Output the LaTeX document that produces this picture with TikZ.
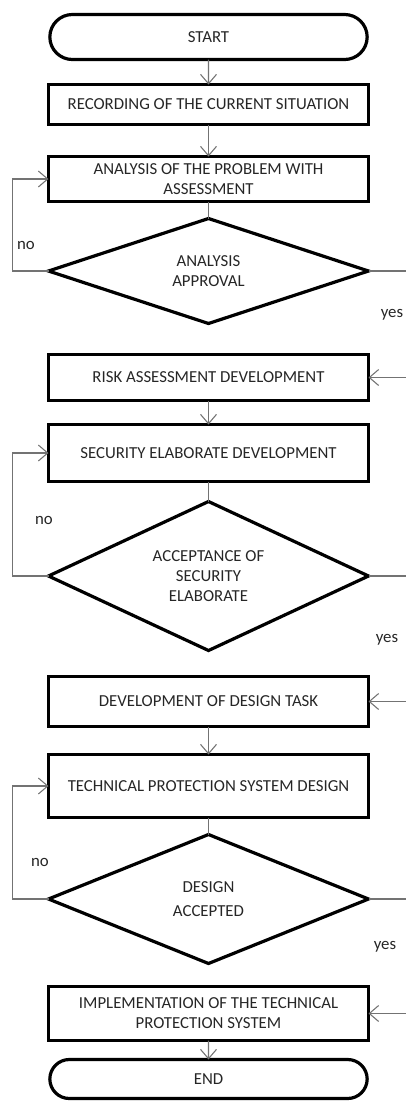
\documentclass[tikz,border=0pt]{standalone}
\usepackage{fontspec}
\setmainfont{Carlito}
\usepackage{tikz}
\usetikzlibrary{shapes.geometric,shapes.misc,arrows.meta}

\begin{document}
\begin{tikzpicture}[x=0.75pt,y=-0.75pt,
                font=\fontsize{12.6}{15}\selectfont,
                stepbox/.style={draw, line width=2.4pt, minimum width=240pt, inner sep=1pt, outer sep=0pt, align=center, text=black!85},
                term/.style={stepbox, rounded rectangle, minimum height=33.75pt},
                decide/.style={stepbox, diamond, aspect=2.9},
                line/.style={draw=black!55, line width=0.8pt},
                flow/.style={line, -{Straight Barb[length=7pt,width=12pt]}},
                lbl/.style={text=black!85}]
                % Fix the frame of the picture
                \path[use as bounding box, clip] (0,0) rectangle (406,1101);
                % Draw the steps and the decisions
                \node[term] (start) at (208.5,37) {START};
                \node[stepbox, minimum height=30pt] (rec) at (208.5,104.5) {RECORDING OF THE CURRENT SITUATION};
                \node[stepbox, minimum height=33.75pt] (ana) at (208.5,179) {ANALYSIS OF THE PROBLEM WITH\\ASSESSMENT};
                \node[decide, minimum height=78.75pt] (appr) at (208.5,271) {ANALYSIS\\APPROVAL};
                \node[stepbox, minimum height=34.5pt] (risk) at (208.5,377.5) {RISK ASSESSMENT DEVELOPMENT};
                \node[stepbox, minimum height=42.75pt] (sec) at (208.5,453) {SECURITY ELABORATE DEVELOPMENT};
                \node[decide, minimum height=111.75pt] (accsec) at (208.5,576) {ACCEPTANCE OF\\SECURITY\\ELABORATE};
                \node[stepbox, minimum height=37.5pt] (task) at (208.5,701.5) {DEVELOPMENT OF DESIGN TASK};
                \node[stepbox, minimum height=47.25pt] (tps) at (208.5,786) {TECHNICAL PROTECTION SYSTEM DESIGN};
                \node[decide, minimum height=96.75pt] (accdes) at (208.5,899) {DESIGN\\[3pt]ACCEPTED};
                \node[stepbox, minimum height=40.5pt] (impl) at (208.5,1013.5) {IMPLEMENTATION OF THE TECHNICAL\\PROTECTION SYSTEM};
                \node[term, minimum height=29.25pt] (end) at (208.5,1079) {END};
                % Draw the flow downwards
                \draw[flow] (start) -- (rec);
                \draw[flow] (rec) -- (ana);
                \draw[line] (ana) -- (appr);
                \draw[flow] (risk) -- (sec);
                \draw[line] (sec) -- (accsec);
                \draw[flow] (task) -- (tps);
                \draw[line] (tps) -- (accdes);
                \draw[flow] (impl) -- (end);
                % Draw the loops back (no) and the ways on (yes)
                \draw[flow] (appr.west) -- ++(-36,0) |- (ana.west);
                \draw[flow] (accsec.west) -- ++(-36,0) |- (sec.west);
                \draw[flow] (accdes.west) -- ++(-36,0) |- (tps.west);
                \draw[flow] (appr.east) -- ++(70,0) |- (risk.east);
                \draw[flow] (accsec.east) -- ++(70,0) |- (task.east);
                \draw[flow] (accdes.east) -- ++(70,0) |- (impl.east);
                % Write the answers
                \node[lbl] (no1) at (26,245) {no};
                \node[lbl] (no2) at (44,520) {no};
                \node[lbl] (no3) at (40,862) {no};
                \node[lbl] (yes1) at (392,315) {yes};
                \node[lbl] (yes2) at (387,640) {yes};
                \node[lbl] (yes3) at (385,947) {yes};
            \end{tikzpicture}
\end{document}
